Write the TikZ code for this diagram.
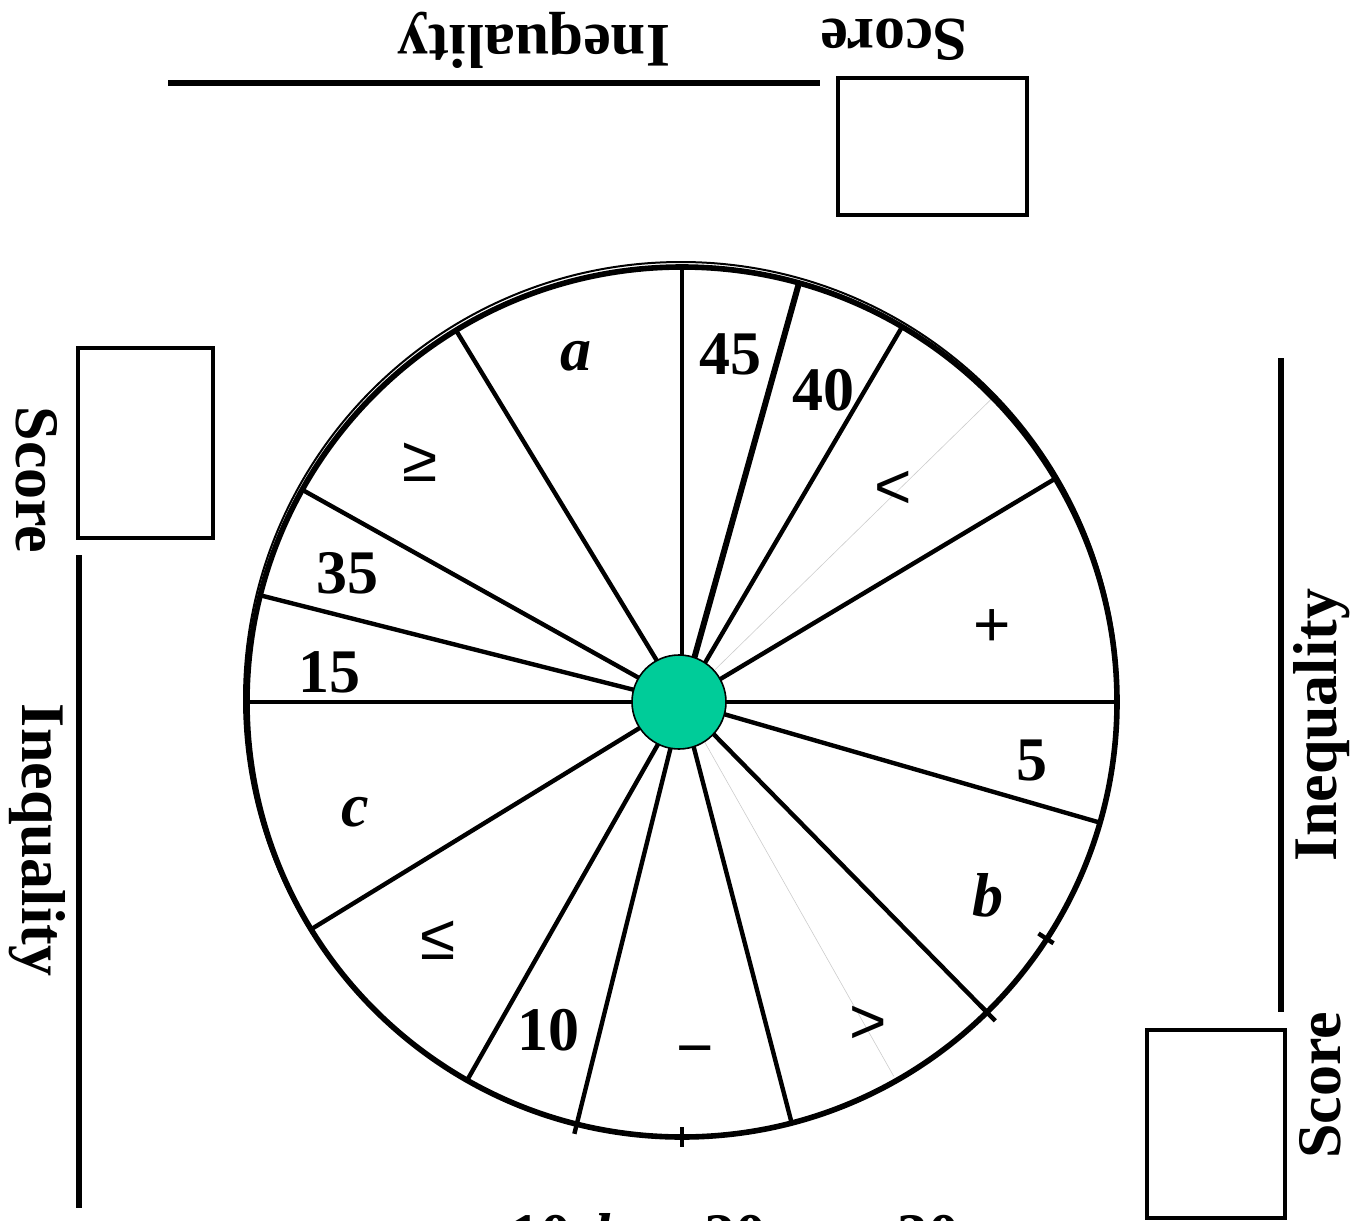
\documentclass[tikz,border=0pt]{standalone}
\usepackage{fontspec}
\usetikzlibrary{calc}
\setmainfont{Liberation Serif}
\newfontfamily\symf{Liberation Sans}
\begin{document}
\begin{tikzpicture}[x=0.5pt,y=-0.5pt,
  lbl/.style={font=\fontsize{31}{36}\selectfont\bfseries, inner sep=0pt},
  ilbl/.style={font=\fontsize{31}{36}\selectfont\bfseries\itshape, inner sep=0pt},
  sym/.style={font=\fontsize{32}{36}\selectfont\symf, inner sep=0pt},
  spoke/.style={line width=2.2pt},
  rim/.style={line width=2.8pt},
  faint/.style={line width=0.3pt, black!20},
  frame/.style={draw, line width=2.2pt},
  bar/.style={line width=2.6pt},
  hub/.style={circle, draw, line width=0.8pt, fill={rgb,255:red,0;green,204;blue,153}, minimum size=47pt, inner sep=0pt}]
\useasboundingbox (0,0) rectangle (1369,1220);
\coordinate (o) at (682,702);
% faint lines
\draw[faint] (o) -- ($(o)+(-44.4:435)$);
\draw[faint] (o) -- ($(o)+(60.5:430)$);
% spokes
\foreach \a in {-90,-30.9,0,16.1,45.5,75.4,119.6,148.5,180,-165.8,-150.8,-121.3,-59.6}
  \draw[spoke] (o) -- ($(o)+(\a:435)$);
\draw[line width=3pt] (o) -- ($(o)+(-74.4:437)$);
\draw[spoke] (o) -- ($(o)+(104:445)$);
% rim
\draw[rim] (o) circle (435);
\draw[line width=1pt] (681,699) circle (437);
% ticks
\draw[spoke] (682,1127) -- (682,1147);
\draw[spoke] ($(o)+(45.5:425)$) -- ($(o)+(45.5:447)$);
\draw[spoke] ($(o)+(33:425)$) -- ($(o)+(33:443)$);
% hub
\node[hub] (c) at (679,702) {};
% sector labels
\node[ilbl] (la) at (576,356) {a};
\node[lbl] (l45) at (730,354) {45};
\node[lbl] (l40) at (823,390) {40};
\node[sym] (llt) at (893,490) {<};
\node[sym] (lplus) at (992,628) {+};
\node[lbl] (l5) at (1032,760) {5};
\node[ilbl] (lb) at (988,895) {b};
\node[sym] (lgt) at (868,1025) {>};
\node[sym] (lminus) at (695,1058) {−};
\node[lbl] (l10) at (548,1030) {10};
\node[sym] (lle) at (438,940) {≤};
\node[ilbl] (lc) at (355,812) {c};
\node[lbl] (l15) at (329,672) {15};
\node[lbl] (l35) at (347,573) {35};
\node[sym] (lge) at (420,462) {≥};
% top
\draw[bar] (168,83) -- (820,83);
\node[frame, minimum width=94.5pt, minimum height=68.5pt, inner sep=0pt] (btop) at (932.5,146.5) {};
\node[lbl, rotate=180] (tineq) at (534,40) {Inequality};
\node[lbl, rotate=180] (tscore) at (894,40) {Score};
% left
\node[frame, minimum width=67.5pt, minimum height=95pt, inner sep=0pt] (bleft) at (145.5,443) {};
\draw[bar] (79,555) -- (79,1208);
\node[lbl, rotate=-90] (lscore) at (37,480) {Score};
\node[lbl, rotate=-90] (lineq) at (37,840) {Inequality};
% right
\draw[bar] (1281,358) -- (1281,1012);
\node[frame, minimum width=69pt, minimum height=94pt, inner sep=0pt] (bright) at (1216,1124) {};
\node[lbl, rotate=90] (rineq) at (1322,725) {Inequality};
\node[lbl, rotate=90] (rscore) at (1320,1085) {Score};
% bottom (cut off at the edge, as in the reference)
\node[lbl, anchor=base] (b10) at (540,1256) {10};
\node[ilbl, anchor=base] (bb) at (610,1256) {b};
\node[lbl, anchor=base] (b20) at (735,1256) {20};
\node[lbl, anchor=base] (b30) at (928,1256) {30};
\end{tikzpicture}
\end{document}
